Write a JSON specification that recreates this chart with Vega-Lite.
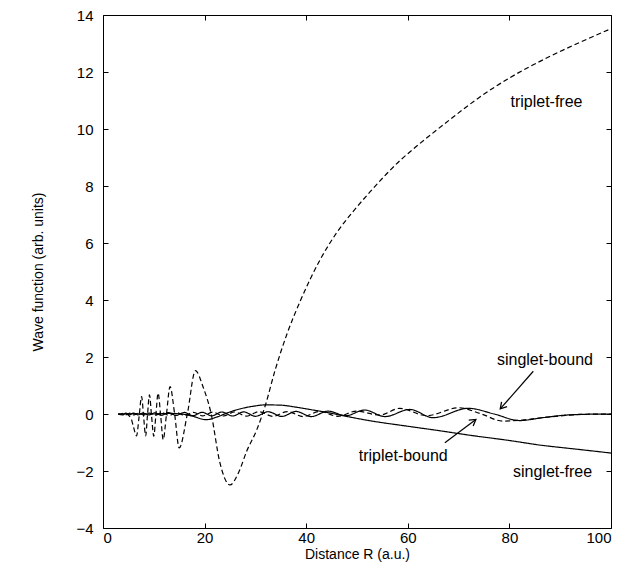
{
  "$schema": "https://vega.github.io/schema/vega-lite/v6.json",
  "width": 508,
  "height": 513,
  "autosize": "none",
  "padding": {"left": 103, "top": 15, "right": 24, "bottom": 42},
  "background": "white",
  "config": {
    "font": "Liberation Sans",
    "view": {"stroke": "black", "strokeWidth": 1},
    "axis": {
      "grid": false,
      "domain": false,
      "tickSize": -5,
      "tickColor": "black",
      "tickWidth": 1,
      "labelColor": "black",
      "labelFontSize": 15,
      "titleFontSize": 14,
      "titleFontWeight": "normal",
      "titleColor": "black"
    }
  },
  "datasets": {
    "curves": [
      {"series": "triplet-free", "x": 3, "y": 0},
      {"series": "triplet-free", "x": 4.5, "y": 0},
      {"series": "triplet-free", "x": 5.5, "y": -0.15},
      {"series": "triplet-free", "x": 6.0, "y": -0.45},
      {"series": "triplet-free", "x": 6.6, "y": -0.77},
      {"series": "triplet-free", "x": 7.1, "y": -0.1},
      {"series": "triplet-free", "x": 7.6, "y": 0.61},
      {"series": "triplet-free", "x": 8.0, "y": -0.1},
      {"series": "triplet-free", "x": 8.4, "y": -0.77},
      {"series": "triplet-free", "x": 8.75, "y": -0.05},
      {"series": "triplet-free", "x": 9.15, "y": 0.67},
      {"series": "triplet-free", "x": 9.55, "y": -0.05},
      {"series": "triplet-free", "x": 10.0, "y": -0.78},
      {"series": "triplet-free", "x": 10.4, "y": -0.05},
      {"series": "triplet-free", "x": 10.85, "y": 0.73},
      {"series": "triplet-free", "x": 11.35, "y": -0.05},
      {"series": "triplet-free", "x": 11.85, "y": -0.9},
      {"series": "triplet-free", "x": 12.5, "y": 0.0},
      {"series": "triplet-free", "x": 13.2, "y": 0.96},
      {"series": "triplet-free", "x": 14.1, "y": 0.0},
      {"series": "triplet-free", "x": 15.0, "y": -1.19},
      {"series": "triplet-free", "x": 16.6, "y": 0.0},
      {"series": "triplet-free", "x": 18.2, "y": 1.52},
      {"series": "triplet-free", "x": 19.7, "y": 0.95},
      {"series": "triplet-free", "x": 21.3, "y": 0.0},
      {"series": "triplet-free", "x": 23.0, "y": -1.7},
      {"series": "triplet-free", "x": 25.0, "y": -2.49},
      {"series": "triplet-free", "x": 26.7, "y": -2.05},
      {"series": "triplet-free", "x": 28.3, "y": -1.3},
      {"series": "triplet-free", "x": 30.3, "y": -0.54},
      {"series": "triplet-free", "x": 31.9, "y": 0.27},
      {"series": "triplet-free", "x": 33.9, "y": 1.55},
      {"series": "triplet-free", "x": 36.2, "y": 2.8},
      {"series": "triplet-free", "x": 38.8, "y": 3.95},
      {"series": "triplet-free", "x": 42.7, "y": 5.4},
      {"series": "triplet-free", "x": 46.0, "y": 6.36},
      {"series": "triplet-free", "x": 49.3, "y": 7.12},
      {"series": "triplet-free", "x": 52.6, "y": 7.8},
      {"series": "triplet-free", "x": 55.8, "y": 8.42},
      {"series": "triplet-free", "x": 58.5, "y": 8.9},
      {"series": "triplet-free", "x": 61.1, "y": 9.3},
      {"series": "triplet-free", "x": 68.3, "y": 10.33},
      {"series": "triplet-free", "x": 74.0, "y": 11.1},
      {"series": "triplet-free", "x": 80.1, "y": 11.8},
      {"series": "triplet-free", "x": 88.0, "y": 12.55},
      {"series": "triplet-free", "x": 94.0, "y": 13.05},
      {"series": "triplet-free", "x": 100.0, "y": 13.52},

      {"series": "singlet-free", "x": 3, "y": 0},
      {"series": "singlet-free", "x": 6, "y": 0.01},
      {"series": "singlet-free", "x": 10, "y": 0.0},
      {"series": "singlet-free", "x": 13, "y": 0.02},
      {"series": "singlet-free", "x": 15.5, "y": 0.0},
      {"series": "singlet-free", "x": 17.5, "y": -0.07},
      {"series": "singlet-free", "x": 20.3, "y": -0.2},
      {"series": "singlet-free", "x": 22.5, "y": -0.1},
      {"series": "singlet-free", "x": 24.5, "y": 0.04},
      {"series": "singlet-free", "x": 27, "y": 0.18},
      {"series": "singlet-free", "x": 29.5, "y": 0.27},
      {"series": "singlet-free", "x": 32, "y": 0.32},
      {"series": "singlet-free", "x": 35, "y": 0.31},
      {"series": "singlet-free", "x": 38, "y": 0.24},
      {"series": "singlet-free", "x": 41, "y": 0.15},
      {"series": "singlet-free", "x": 44, "y": 0.06},
      {"series": "singlet-free", "x": 47, "y": -0.05},
      {"series": "singlet-free", "x": 52, "y": -0.22},
      {"series": "singlet-free", "x": 60, "y": -0.43},
      {"series": "singlet-free", "x": 66, "y": -0.58},
      {"series": "singlet-free", "x": 72, "y": -0.74},
      {"series": "singlet-free", "x": 80, "y": -0.93},
      {"series": "singlet-free", "x": 86, "y": -1.09},
      {"series": "singlet-free", "x": 93, "y": -1.23},
      {"series": "singlet-free", "x": 100, "y": -1.37},

      {"series": "singlet-bound", "x": 3, "y": 0},
      {"series": "singlet-bound", "x": 3.9, "y": -0.03},
      {"series": "singlet-bound", "x": 4.5, "y": 0.03},
      {"series": "singlet-bound", "x": 5.2, "y": -0.03},
      {"series": "singlet-bound", "x": 6.0, "y": 0.03},
      {"series": "singlet-bound", "x": 6.9, "y": -0.03},
      {"series": "singlet-bound", "x": 7.9, "y": 0.035},
      {"series": "singlet-bound", "x": 9.0, "y": -0.035},
      {"series": "singlet-bound", "x": 10.2, "y": 0.04},
      {"series": "singlet-bound", "x": 11.5, "y": -0.045},
      {"series": "singlet-bound", "x": 12.9, "y": 0.05},
      {"series": "singlet-bound", "x": 14.4, "y": -0.05},
      {"series": "singlet-bound", "x": 16.0, "y": 0.055},
      {"series": "singlet-bound", "x": 17.7, "y": -0.06},
      {"series": "singlet-bound", "x": 19.5, "y": 0.06},
      {"series": "singlet-bound", "x": 21.4, "y": -0.065},
      {"series": "singlet-bound", "x": 23.4, "y": 0.07},
      {"series": "singlet-bound", "x": 25.5, "y": -0.07},
      {"series": "singlet-bound", "x": 27.7, "y": 0.075},
      {"series": "singlet-bound", "x": 30.0, "y": -0.08},
      {"series": "singlet-bound", "x": 32.5, "y": 0.08},
      {"series": "singlet-bound", "x": 35.2, "y": -0.085},
      {"series": "singlet-bound", "x": 38.0, "y": 0.09},
      {"series": "singlet-bound", "x": 41.0, "y": -0.09},
      {"series": "singlet-bound", "x": 44.3, "y": 0.1},
      {"series": "singlet-bound", "x": 47.8, "y": -0.06},
      {"series": "singlet-bound", "x": 51.5, "y": 0.14},
      {"series": "singlet-bound", "x": 55.5, "y": -0.09},
      {"series": "singlet-bound", "x": 60.4, "y": 0.16},
      {"series": "singlet-bound", "x": 65.0, "y": -0.13},
      {"series": "singlet-bound", "x": 71.9, "y": 0.2},
      {"series": "singlet-bound", "x": 77.0, "y": 0.0},
      {"series": "singlet-bound", "x": 82.0, "y": -0.23},
      {"series": "singlet-bound", "x": 86.5, "y": -0.13},
      {"series": "singlet-bound", "x": 91.0, "y": -0.04},
      {"series": "singlet-bound", "x": 95.0, "y": -0.01},
      {"series": "singlet-bound", "x": 100.0, "y": 0},

      {"series": "triplet-bound", "x": 3, "y": 0},
      {"series": "triplet-bound", "x": 3.4, "y": -0.02},
      {"series": "triplet-bound", "x": 4.0, "y": 0.025},
      {"series": "triplet-bound", "x": 4.6, "y": -0.025},
      {"series": "triplet-bound", "x": 5.3, "y": 0.03},
      {"series": "triplet-bound", "x": 6.1, "y": -0.03},
      {"series": "triplet-bound", "x": 7.0, "y": 0.03},
      {"series": "triplet-bound", "x": 8.0, "y": -0.035},
      {"series": "triplet-bound", "x": 9.1, "y": 0.035},
      {"series": "triplet-bound", "x": 10.3, "y": -0.04},
      {"series": "triplet-bound", "x": 11.6, "y": 0.045},
      {"series": "triplet-bound", "x": 13.0, "y": -0.05},
      {"series": "triplet-bound", "x": 14.5, "y": 0.05},
      {"series": "triplet-bound", "x": 16.1, "y": -0.055},
      {"series": "triplet-bound", "x": 17.8, "y": 0.06},
      {"series": "triplet-bound", "x": 19.6, "y": -0.065},
      {"series": "triplet-bound", "x": 21.6, "y": 0.065},
      {"series": "triplet-bound", "x": 23.7, "y": -0.07},
      {"series": "triplet-bound", "x": 25.9, "y": 0.07},
      {"series": "triplet-bound", "x": 28.2, "y": -0.075},
      {"series": "triplet-bound", "x": 30.7, "y": 0.08},
      {"series": "triplet-bound", "x": 33.4, "y": -0.08},
      {"series": "triplet-bound", "x": 36.3, "y": 0.085},
      {"series": "triplet-bound", "x": 39.4, "y": -0.09},
      {"series": "triplet-bound", "x": 42.7, "y": 0.09},
      {"series": "triplet-bound", "x": 46.2, "y": -0.08},
      {"series": "triplet-bound", "x": 49.9, "y": 0.1},
      {"series": "triplet-bound", "x": 54.5, "y": -0.04},
      {"series": "triplet-bound", "x": 58.4, "y": 0.2},
      {"series": "triplet-bound", "x": 63.7, "y": -0.06},
      {"series": "triplet-bound", "x": 70.0, "y": 0.22},
      {"series": "triplet-bound", "x": 74.5, "y": 0.0},
      {"series": "triplet-bound", "x": 78.7, "y": -0.25},
      {"series": "triplet-bound", "x": 82.5, "y": -0.21},
      {"series": "triplet-bound", "x": 87.0, "y": -0.12},
      {"series": "triplet-bound", "x": 91.0, "y": -0.05},
      {"series": "triplet-bound", "x": 95.0, "y": -0.01},
      {"series": "triplet-bound", "x": 100.0, "y": 0}
    ],
    "labels": [
      {"label": "triplet-free", "x": 87.3, "y": 10.94},
      {"label": "singlet-bound", "x": 87.0, "y": 1.91},
      {"label": "triplet-bound", "x": 59.1, "y": -1.48},
      {"label": "singlet-free", "x": 88.5, "y": -2.04}
    ],
    "arrows": [
      {"label": "singlet-bound", "x": 84.7, "y": 1.5, "x2": 78.2, "y2": 0.18},
      {"label": "triplet-bound", "x": 67.3, "y": -1.01, "x2": 73.4, "y2": -0.19}
    ]
  },
  "layer": [
    {
      "mark": {"type": "rule", "strokeDash": [1, 2], "color": "black", "strokeWidth": 0.8},
      "encoding": {
        "y": {"datum": 0, "type": "quantitative", "axis": null}
      }
    },
    {
      "data": {"name": "curves"},
      "mark": {"type": "line", "interpolate": "monotone", "color": "black", "strokeWidth": 1.2},
      "encoding": {
        "x": {
          "field": "x", "type": "quantitative",
          "scale": {"domain": [0, 100], "nice": false, "zero": false},
          "axis": {"orient": "bottom", "values": [0, 20, 40, 60, 80, 100], "title": "Distance R (a.u.)", "labelPadding": 7, "titlePadding": 2}
        },
        "y": {
          "field": "y", "type": "quantitative",
          "scale": {"domain": [-4, 14], "nice": false, "zero": false},
          "axis": {"orient": "left", "values": [-4, -2, 0, 2, 4, 6, 8, 10, 12, 14], "title": "Wave function (arb. units)", "labelPadding": 15, "titlePadding": 30}
        },
        "detail": {"field": "series"},
        "strokeDash": {
          "field": "series", "type": "nominal", "legend": null,
          "scale": {
            "domain": ["triplet-free", "singlet-free", "singlet-bound", "triplet-bound"],
            "range": [[5, 3], [1, 0], [1, 0], [5, 3]]
          }
        }
      }
    },
    {
      "data": {"name": "arrows"},
      "mark": {"type": "rule", "color": "black", "strokeWidth": 1.2},
      "encoding": {
        "x": {"field": "x", "type": "quantitative", "axis": null},
        "y": {"field": "y", "type": "quantitative", "axis": null},
        "x2": {"field": "x2"},
        "y2": {"field": "y2"}
      }
    },
    {
      "data": {"name": "arrows"},
      "transform": [{"filter": "datum.label === 'singlet-bound'"}],
      "mark": {"type": "point", "shape": "M -0.6 1 L 0 0 L 0.6 1", "filled": false, "stroke": "black", "strokeWidth": 1.3, "size": 150, "angle": 221.7, "opacity": 1},
      "encoding": {
        "x": {"field": "x2", "type": "quantitative", "axis": null},
        "y": {"field": "y2", "type": "quantitative", "axis": null}
      }
    },
    {
      "data": {"name": "arrows"},
      "transform": [{"filter": "datum.label === 'triplet-bound'"}],
      "mark": {"type": "point", "shape": "M -0.6 1 L 0 0 L 0.6 1", "filled": false, "stroke": "black", "strokeWidth": 1.3, "size": 150, "angle": 53.4, "opacity": 1},
      "encoding": {
        "x": {"field": "x2", "type": "quantitative", "axis": null},
        "y": {"field": "y2", "type": "quantitative", "axis": null}
      }
    },
    {
      "data": {"name": "labels"},
      "mark": {"type": "text", "fontSize": 16, "color": "black", "align": "center", "baseline": "middle"},
      "encoding": {
        "x": {"field": "x", "type": "quantitative", "axis": {"orient": "top", "values": [0, 20, 40, 60, 80, 100], "labels": false, "title": null}},
        "y": {"field": "y", "type": "quantitative", "axis": {"orient": "right", "values": [-4, -2, 0, 2, 4, 6, 8, 10, 12, 14], "labels": false, "title": null}},
        "text": {"field": "label"}
      }
    }
  ]
}
